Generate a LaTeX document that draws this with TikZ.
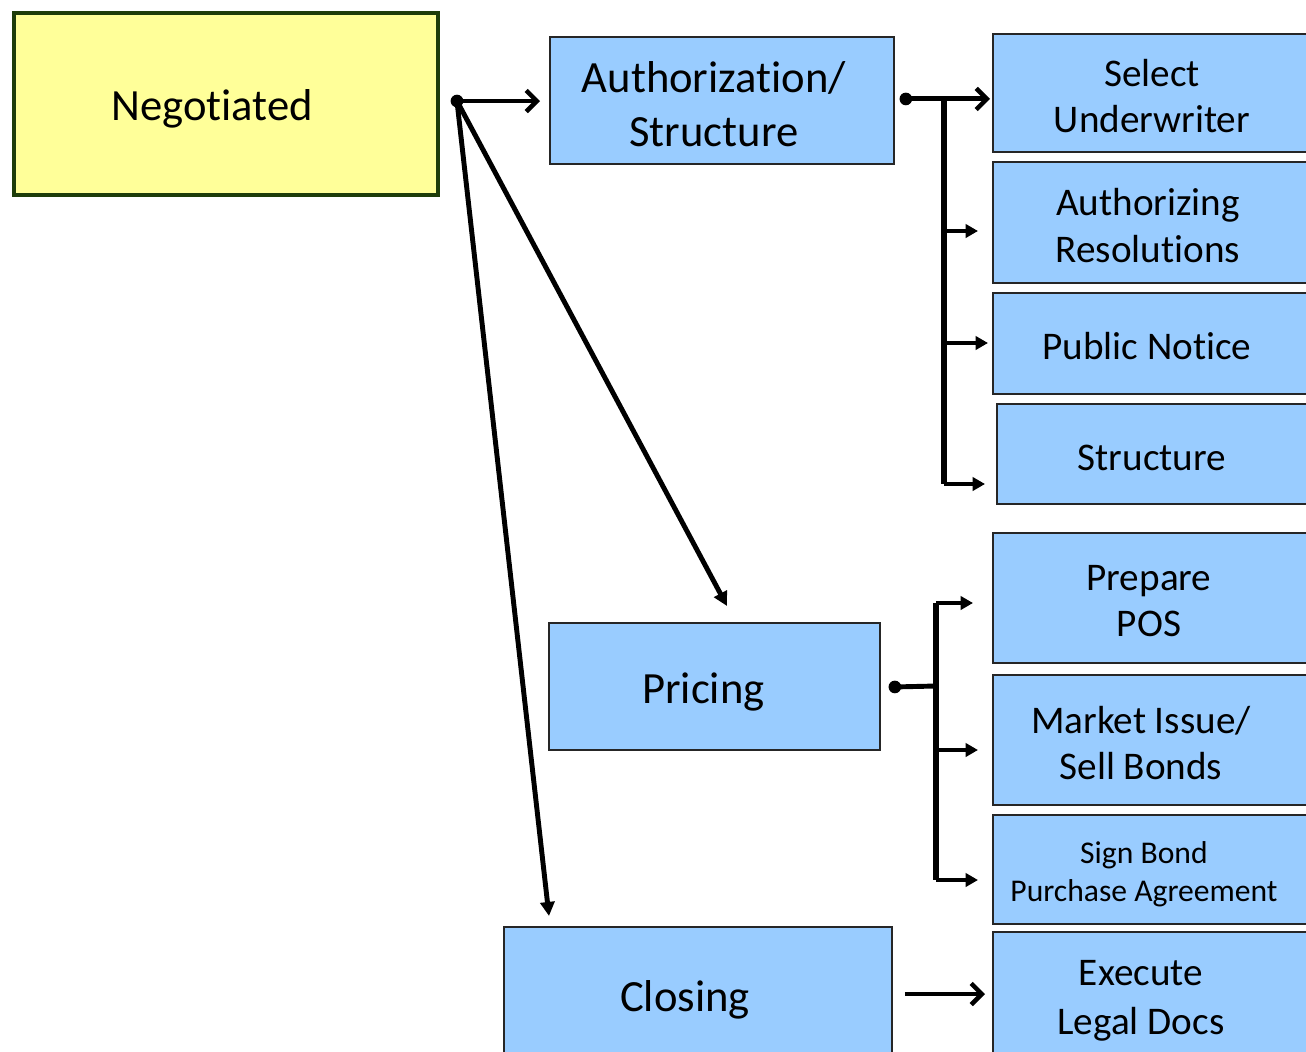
\documentclass[tikz,border=0pt]{standalone}
\usepackage{fontspec}
\setmainfont{Carlito}[Ligatures={NoCommon}]
\usetikzlibrary{arrows.meta,calc}
\definecolor{boxblue}{HTML}{99CCFF}
\definecolor{boxyellow}{HTML}{FFFF99}
\definecolor{darkgreen}{HTML}{1E3D0A}
\begin{document}
\begin{tikzpicture}[x=0.02cm,y=-0.02cm,
  bluebox/.style={draw=black!85, line width=1.1pt, fill=boxblue, anchor=north west, inner sep=0pt},
  txt/.style={inner sep=0pt, align=center, font=\fontsize{22.3}{26.6}\selectfont},
  bigtext/.style={font=\fontsize{25.4}{30.6}\selectfont},
  smalltext/.style={font=\fontsize{18}{21.5}\selectfont},
  conn/.style={line width=2.8pt, draw=black},
  branch/.style={line width=2.2pt, draw=black, -{Triangle[length=7pt,width=7.5pt]}},
  barb/.style={conn, -{Straight Barb[length=6pt,width=12pt,line width=2.6pt]}},
  diag/.style={conn, -{Triangle[length=8pt,width=8pt]}},
  dot/.style={fill=black}]
\useasboundingbox (0,0) rectangle (1306,1052);
\clip (0,0) rectangle (1306,1052);
\fill[white] (0,0) rectangle (1306,1052);

% main boxes
\node[draw=darkgreen, line width=2.3pt, fill=boxyellow, anchor=north west, inner sep=0pt,
  minimum width=8.48cm, minimum height=3.64cm] (neg) at (12,11) {};
\node[txt, bigtext] (negt) at ($(neg.center)+(-14,5)$) {Negotiated};
\node[bluebox, minimum width=6.88cm, minimum height=2.54cm] (auth) at (549,36) {};
\node[txt, bigtext] (autht) at ($(auth.center)+(-8,4)$) {Authorization/\\Structure};
\node[bluebox, minimum width=6.62cm, minimum height=2.54cm] (pricing) at (548,622) {};
\node[txt, bigtext] (pricingt) at ($(pricing.center)+(-11,6)$) {Pricing};
\node[bluebox, minimum width=7.76cm, minimum height=2.84cm] (closing) at (503,926) {};
\node[txt, bigtext] (closingt) at ($(closing.center)+(-13,2)$) {Closing};

% right column
\node[bluebox, minimum width=6.4cm, minimum height=2.36cm] (select) at (992,33) {};
\node[txt] (selectt) at ($(select.center)+(-1,3)$) {Select\\Underwriter};
\node[bluebox, minimum width=6.4cm, minimum height=2.42cm] (authres) at (992,161) {};
\node[txt] (authrest) at ($(authres.center)+(-5,3)$) {Authorizing\\Resolutions};
\node[bluebox, minimum width=6.4cm, minimum height=2.02cm] (public) at (992,292) {};
\node[txt] (publict) at ($(public.center)+(-6,3)$) {Public Notice};
\node[bluebox, minimum width=6.32cm, minimum height=2.0cm] (struct) at (996,403) {};
\node[txt] (structt) at ($(struct.center)+(-3,4)$) {Structure};
\node[bluebox, minimum width=6.4cm, minimum height=2.6cm] (prepare) at (992,532) {};
\node[txt] (preparet) at ($(prepare.center)+(-4,3)$) {Prepare\\POS};
\node[bluebox, minimum width=6.4cm, minimum height=2.6cm] (market) at (992,674) {};
\node[txt] (markett) at ($(market.center)+(-12,3)$) {Market Issue/\\Sell Bonds};
\node[bluebox, minimum width=6.4cm, minimum height=2.18cm] (sign) at (992,814) {};
\node[txt, smalltext] (signt) at ($(sign.center)+(-9,5)$) {Sign Bond\\Purchase Agreement};
\node[bluebox, minimum width=6.4cm, minimum height=2.64cm] (execute) at (992,931) {};
\node[txt, font=\fontsize{22.3}{28}\selectfont] (executet) at ($(execute.center)+(-12,3)$) {Execute\\Legal Docs};

% junction points
\coordinate (dN) at ($(neg.east)+(17,-3)$);
\coordinate (dA) at ($(auth.east)+(11,-1.5)$);
\coordinate (dP) at ($(pricing.east)+(14,0.5)$);
\coordinate (tA1) at (944,98);
\coordinate (tA2) at (944,484);
\coordinate (tP1) at (936,603);
\coordinate (tP2) at (936,880);
\coordinate (tPm) at (936,686);

% from Negotiated
\draw[barb] (dN) -- ($(auth.west |- dN)+(-9,0)$);
\draw[diag] (dN) -- ($(pricing.north west)+(179,-16)$);
\draw[diag] (dN) -- ($(closing.north west)+(46,-10)$);
\fill[dot] (dN) circle[radius=3.6pt];

% Authorization branches
\draw[conn, line width=3.2pt] (tA1) -- (tA2);
\draw[barb] (dA) -- ($(select.west |- dA)+(-2,0)$);
\draw[branch] (944,231) -- ($(authres.west |- 0,231)+(-14,0)$);
\draw[branch] (944,343) -- ($(public.west |- 0,343)+(-4,0)$);
\draw[branch] (tA2) -- ($(struct.west |- tA2)+(-11,0)$);
\fill[dot] (dA) circle[radius=3.6pt];

% Pricing branches
\draw[conn] (dP) -- (tPm);
\draw[conn, line width=3.2pt] (tP1) -- (tP2);
\draw[branch] (tP1) -- ($(prepare.west |- tP1)+(-19,0)$);
\draw[branch] (936,750) -- ($(market.west |- 0,750)+(-14,0)$);
\draw[branch] (tP2) -- ($(sign.west |- tP2)+(-14,0)$);
\fill[dot] (dP) circle[radius=3.6pt];

% Closing
\draw[barb] ($(closing.east |- 0,994)+(12,0)$) -- ($(execute.west |- 0,994)+(-7,0)$);
\end{tikzpicture}
\end{document}
